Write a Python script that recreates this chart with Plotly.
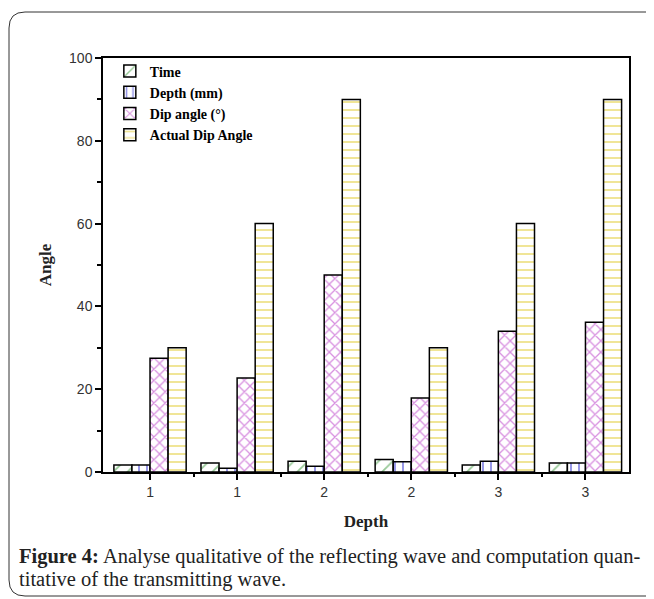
import plotly.graph_objects as go

# ---- data ----
group_positions = [1, 2, 3, 4, 5, 6]
tick_labels = ["1", "1", "2", "2", "3", "3"]
time_vals = [1.7, 2.2, 2.6, 3.0, 1.7, 2.2]
depth_vals = [1.7, 0.9, 1.4, 2.5, 2.6, 2.2]
dip_vals = [27.5, 22.7, 47.6, 17.9, 34.0, 36.2]
actual_vals = [30, 60, 90, 30, 60, 90]
series_names = ["Time", "Depth (mm)", "Dip angle (°)", "Actual Dip Angle"]

# page has an 8px body margin; figure is placed at (8, 8)
OFF = 8
W, H = 654 - OFF, 599 - OFF
# plot area in page px
L, R, T, B = 103, 629, 58, 472
def px(x):
    return (x - L) / (R - L)
def py(y):
    return (B - y) / (B - T)

styles = [
    dict(shape="/", fg="#2f922f", size=10, sol=0.18),
    dict(shape="|", fg="#1414c8", size=8, sol=0.22),
    dict(shape="x", fg="#b020c0", size=8, sol=0.3),
    dict(shape="-", fg="#e2cc30", size=8, sol=0.25),
]
series = [time_vals, depth_vals, dip_vals, actual_vals]

fig = go.Figure()
for name, vals, st in zip(series_names, series, styles):
    fig.add_trace(go.Bar(
        x=group_positions, y=vals, name=name,
        marker=dict(
            color="white",
            line=dict(color="black", width=1.5),
            pattern=dict(shape=st["shape"], fgcolor=st["fg"], bgcolor="white",
                         size=st["size"], solidity=st["sol"], fillmode="overlay"),
        ),
    ))

fig.update_layout(
    width=W, height=H,
    margin=dict(l=L - OFF, r=(W + OFF) - R, t=T - OFF, b=(H + OFF) - B),
    paper_bgcolor="white", plot_bgcolor="white",
    barmode="group", bargap=0.17, bargroupgap=0,
    showlegend=True,
    legend=dict(x=0.013, y=1.006, xanchor="left", yanchor="top",
                bgcolor="rgba(0,0,0,0)", borderwidth=0,
                font=dict(family="Liberation Serif", size=14, color="black", weight="bold"),
                tracegroupgap=0, itemwidth=30),
    font=dict(family="Liberation Sans", color="#333"),
)

fig.update_xaxes(
    range=[0.46, 6.5],
    tickmode="array", tickvals=group_positions, ticktext=tick_labels,
    ticks="outside", ticklen=6, tickwidth=1.5, tickcolor="black",
    showline=True, linecolor="black", linewidth=1.5, mirror=True,
    showgrid=False, zeroline=False,
    tickfont=dict(family="Liberation Sans", size=14, color="#333"),
    minor=dict(tickmode="array", tickvals=[1.5, 2.5, 3.5, 4.5, 5.5],
               ticks="outside", ticklen=3, tickwidth=1.5, tickcolor="black"),
    title=dict(text="<b>Depth</b>", font=dict(family="Liberation Serif", size=17, color="#222"),
               standoff=17),
)
fig.update_yaxes(
    range=[0, 100],
    tickmode="array", tickvals=[0, 20, 40, 60, 80, 100],
    ticks="outside", ticklen=6, tickwidth=1.5, tickcolor="black",
    showline=True, linecolor="black", linewidth=1.5, mirror=True,
    showgrid=False, zeroline=False,
    tickfont=dict(family="Liberation Sans", size=14, color="#333"),
    minor=dict(tickmode="array", tickvals=[10, 30, 50, 70, 90],
               ticks="outside", ticklen=4, tickwidth=1.5, tickcolor="black"),
    title=dict(text="<b>Angle</b>", font=dict(family="Liberation Serif", size=17, color="#222"),
               standoff=13),
)

# outer rounded frame
x0, x1 = px(9), px(668)
y0, y1 = py(596), py(12)
rx, ry = 16 / (R - L), 16 / (B - T)
path = (f"M {x0+rx},{y1} L {x1},{y1} L {x1},{y0} L {x0+rx},{y0} "
        f"Q {x0},{y0} {x0},{y0+ry} L {x0},{y1-ry} Q {x0},{y1} {x0+rx},{y1} Z")
fig.add_shape(type="path", path=path, xref="paper", yref="paper",
              line=dict(color="#333", width=1), fillcolor="rgba(0,0,0,0)", layer="below")

cap_font = dict(family="Liberation Serif", size=20.5, color="#222")
fig.add_annotation(x=px(17), y=py(556), xref="paper", yref="paper",
                   xanchor="left", yanchor="middle", showarrow=False, font=cap_font,
                   text="<b>Figure 4:</b> Analyse qualitative of the reflecting wave and computation quan-")
fig.add_annotation(x=px(17), y=py(579), xref="paper", yref="paper",
                   xanchor="left", yanchor="middle", showarrow=False, font=cap_font,
                   text="titative of the transmitting wave.")

fig.write_html("out.html")
